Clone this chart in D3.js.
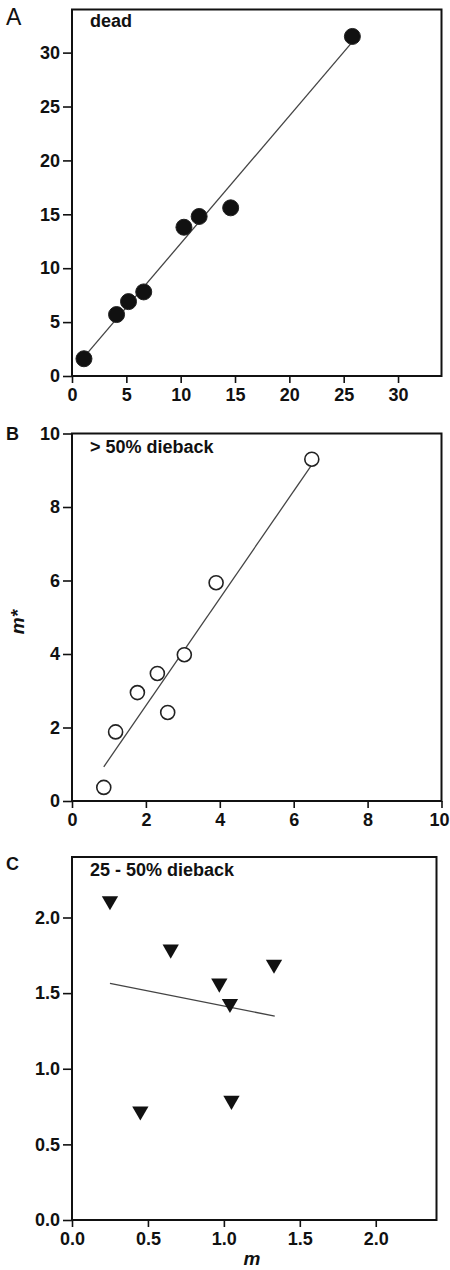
<!DOCTYPE html>
<html>
<head>
<meta charset="utf-8">
<script src="https://cdn.jsdelivr.net/npm/d3@7"></script>
<style>
  body { margin: 0; background: #fff; }
  svg { display: block; }
  text { font-family: "Liberation Sans", Arial, sans-serif; fill: #111; }
</style>
</head>
<body>
<svg id="chart" width="450" height="1270"></svg>
<script>
// panel A - dead
const deadM = [1.1, 4.1, 5.2, 6.6, 10.3, 11.7, 14.6, 25.8]
const deadMstar = [1.6, 5.7, 6.9, 7.8, 13.8, 14.8, 15.6, 31.5]
const deadFit = [[1.1, 1.75], [25.8, 31.0]]
const deadTicks = [0, 5, 10, 15, 20, 25, 30]

// panel B - > 50% dieback
const highM = [0.86, 1.18, 1.77, 2.31, 2.59, 3.04, 3.90, 6.49]
const highMstar = [0.37, 1.88, 2.95, 3.47, 2.41, 3.98, 5.94, 9.30]
const highFit = [[0.86, 0.93], [6.47, 9.12]]
const highTicks = [0, 2, 4, 6, 8, 10]

// panel C - 25-50% dieback
const midM = [0.25, 0.45, 0.65, 0.97, 1.04, 1.05, 1.33]
const midMstar = [2.11, 0.72, 1.79, 1.565, 1.43, 0.79, 1.69]
const midFit = [[0.25, 1.565], [1.335, 1.348]]
const midTicks = [0, 0.5, 1.0, 1.5, 2.0]

const svg = d3.select('#chart')

function panel(opt) {
    const x = d3.scaleLinear().domain(opt.xDomain).range(opt.xRange)
    const y = d3.scaleLinear().domain(opt.yDomain).range(opt.yRange)
    const g = svg.append('g')

    // frame
    g.append('rect')
        .attr('x', opt.xRange[0]).attr('y', opt.yRange[1])
        .attr('width', opt.xRange[1] - opt.xRange[0])
        .attr('height', opt.yRange[0] - opt.yRange[1])
        .attr('fill', 'none').attr('stroke', '#111').attr('stroke-width', 2)

    const xAxis = g.append('g')
        .attr('transform', `translate(0,${opt.yRange[0]})`)
        .call(d3.axisBottom(x).tickValues(opt.ticks).tickFormat(opt.fmt).tickSize(7).tickPadding(5))
    const yAxis = g.append('g')
        .attr('transform', `translate(${opt.xRange[0]},0)`)
        .call(d3.axisLeft(y).tickValues(opt.ticks).tickFormat(opt.fmt).tickSize(9).tickPadding(3))
    for (const ax of [xAxis, yAxis]) {
        ax.select('.domain').remove()
        ax.selectAll('line').attr('stroke', '#111').attr('stroke-width', 1.6)
        ax.selectAll('text')
            .style('font-family', '"Liberation Sans", Arial, sans-serif')
            .style('font-size', '18px').style('font-weight', 'bold').attr('fill', '#111')
    }
    // keep a label sitting on the right page edge inside the page
    xAxis.selectAll('.tick text')
        .filter(d => x(d) + 11 > 450)
        .attr('text-anchor', 'end').attr('x', d => 449 - x(d))

    // fitted line
    g.append('line')
        .attr('x1', x(opt.fit[0][0])).attr('y1', y(opt.fit[0][1]))
        .attr('x2', x(opt.fit[1][0])).attr('y2', y(opt.fit[1][1]))
        .attr('stroke', '#444').attr('stroke-width', 1.3)

    const pts = opt.xs.map((d, i) => ({ m: d, ms: opt.ys[i] }))
    if (opt.shape === 'tri') {
        g.selectAll('path.pt').data(pts).enter().append('path')
            .attr('class', 'pt')
            .attr('d', d3.symbol().type(d3.symbolTriangle).size(115))
            .attr('transform', d => `translate(${x(d.m)},${y(d.ms)}) rotate(180)`)
            .attr('fill', '#111')
    } else {
        g.selectAll('circle').data(pts).enter().append('circle')
            .attr('cx', d => x(d.m)).attr('cy', d => y(d.ms))
            .attr('r', opt.shape === 'open' ? 7 : 8)
            .attr('fill', opt.shape === 'open' ? '#fff' : '#111')
            .attr('stroke', '#222').attr('stroke-width', opt.shape === 'open' ? 1.6 : 1)
    }

    g.append('text')
        .attr('x', opt.xRange[0] + 18).attr('y', opt.yRange[1] + opt.titleDy)
        .style('font-size', '18px').style('font-weight', 'bold')
        .text(opt.title)

    g.append('text')
        .attr('x', 6).attr('y', opt.letterY)
        .style('font-size', opt.letterSize).style('font-weight', opt.letterWeight)
        .text(opt.letter)
}

panel({
    xs: deadM, ys: deadMstar, fit: deadFit, ticks: deadTicks, fmt: d3.format('d'),
    xDomain: [0, 34], xRange: [72, 441.5], yDomain: [0, 34], yRange: [376, 9.5],
    shape: 'filled', title: 'dead', titleDy: 17, letter: 'A', letterY: 25,
    letterSize: '23px', letterWeight: 'normal'
})

panel({
    xs: highM, ys: highMstar, fit: highFit, ticks: highTicks, fmt: d3.format('d'),
    xDomain: [0, 10], xRange: [72, 441.5], yDomain: [0, 10], yRange: [801, 433.5],
    shape: 'open', title: '> 50% dieback', titleDy: 19, letter: 'B', letterY: 440,
    letterSize: '18px', letterWeight: 'bold'
})

panel({
    xs: midM, ys: midMstar, fit: midFit, ticks: midTicks, fmt: d3.format('.1f'),
    xDomain: [0, 2.4], xRange: [72, 436.5], yDomain: [0, 2.4], yRange: [1220, 857],
    shape: 'tri', title: '25 - 50% dieback', titleDy: 18.5, letter: 'C', letterY: 870,
    letterSize: '18px', letterWeight: 'bold'
})

// axis titles
svg.append('text')
    .attr('transform', 'translate(24,622) rotate(-90)')
    .attr('text-anchor', 'middle')
    .style('font-size', '19px').style('font-weight', 'bold').style('font-style', 'italic')
    .text('m*')

svg.append('text')
    .attr('x', 252).attr('y', 1265)
    .attr('text-anchor', 'middle')
    .style('font-size', '19px').style('font-weight', 'bold').style('font-style', 'italic')
    .text('m')
</script>
</body>
</html>
